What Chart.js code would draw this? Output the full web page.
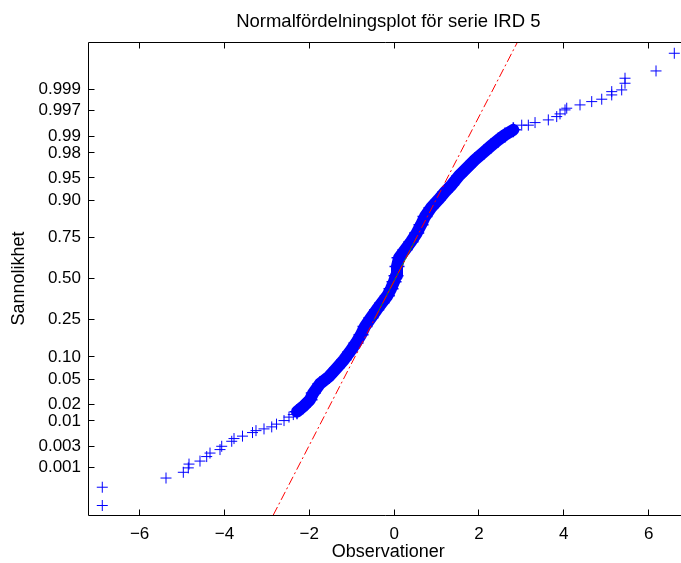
<!DOCTYPE html>
<html>
<head>
<meta charset="utf-8">
<script src="https://cdn.jsdelivr.net/npm/chart.js@4.4.1/dist/chart.umd.min.js"></script>
<style>
html,body{margin:0;padding:0;background:#ffffff;}
#wrap{width:681px;height:563px;}
</style>
</head>
<body>
<div id="wrap"><canvas id="c" width="681" height="563"></canvas></div>
<script>
// ---------------- data ----------------
const chartTitle = 'Normalfördelningsplot för serie IRD 5';
const xAxisTitle = 'Observationer';
const yAxisTitle = 'Sannolikhet';

const xTickValues = [-6, -4, -2, 0, 2, 4, 6];
const probTicks = [0.001, 0.003, 0.01, 0.02, 0.05, 0.10, 0.25, 0.50, 0.75, 0.90, 0.95, 0.98, 0.99, 0.997, 0.999];
const probTickLabels = ['0.001', '0.003', '0.01', '0.02', '0.05', '0.10', '0.25', '0.50', '0.75', '0.90', '0.95', '0.98', '0.99', '0.997', '0.999'];

// axis limits: observations, and normal scores (z)
const xLimits = [-7.216, 6.942];
const zLimits = [-3.865, 3.865];

// lower tail observations and their normal scores
const lowerTailX = [-6.879, -6.879, -5.377, -4.969, -4.852, -4.835, -4.576, -4.418, -4.340, -4.104, -4.064, -3.828, -3.774, -3.574, -3.338, -3.256, -3.067, -2.885, -2.772, -2.595, -2.478, -2.376];
const lowerTailZ = [-3.710, -3.411, -3.261, -3.167, -3.095, -3.033, -2.984, -2.910, -2.853, -2.796, -2.742, -2.660, -2.616, -2.576, -2.518, -2.486, -2.458, -2.425, -2.380, -2.322, -2.265, -2.224];

// dense central band of observations
const bandX = [-2.289, -2.148, -1.983, -1.905, -1.747, -1.528, -1.346, -1.181, -1.040, -0.898, -0.780, -0.686, -0.545, -0.410, -0.285, -0.160, -0.073, -0.002, 0.045, 0.068, 0.116, 0.257, 0.398, 0.533, 0.634, 0.728, 0.870, 1.042, 1.200, 1.358, 1.530, 1.707, 1.907, 2.119, 2.284, 2.456, 2.614, 2.810];
const bandZ = [-2.176, -2.094, -1.980, -1.870, -1.719, -1.599, -1.457, -1.327, -1.196, -1.054, -0.918, -0.783, -0.641, -0.510, -0.396, -0.282, -0.167, -0.053, 0.045, 0.197, 0.339, 0.469, 0.600, 0.742, 0.878, 1.013, 1.155, 1.286, 1.416, 1.531, 1.678, 1.800, 1.939, 2.069, 2.167, 2.265, 2.347, 2.429];

// upper tail observations and their normal scores
const upperTailX = [3.008, 3.164, 3.322, 3.635, 3.833, 3.911, 4.029, 4.069, 4.382, 4.658, 4.894, 5.130, 5.130, 5.365, 5.443, 5.443, 6.174, 6.605];
const upperTailZ = [2.506, 2.506, 2.548, 2.592, 2.646, 2.690, 2.755, 2.783, 2.837, 2.891, 2.930, 3.000, 3.054, 3.082, 3.191, 3.273, 3.392, 3.681];

// reference (fitted normal) line, dash-dot, and its solid quartile part
const fitLineX = [-2.848, 2.909];
const fitLineZ = [-3.865, 3.865];
const quartileX = [-0.471, 0.533];
const quartileP = [0.25, 0.75];

// ---------------- helpers ----------------
function norminv(p) {
  const a = [-3.969683028665376e+01, 2.209460984245205e+02, -2.759285104469687e+02, 1.383577518672690e+02, -3.066479806614716e+01, 2.506628277459239e+00];
  const b = [-5.447609879822406e+01, 1.615858368580409e+02, -1.556989798598866e+02, 6.680131188771972e+01, -1.328068155288572e+01];
  const c = [-7.784894002430293e-03, -3.223964580411365e-01, -2.400758277161838e+00, -2.549732539343734e+00, 4.374664141464968e+00, 2.938163982698783e+00];
  const d = [7.784695709041462e-03, 3.224671290700398e-01, 2.445134137142996e+00, 3.754408661907416e+00];
  const pl = 0.02425, ph = 1 - pl;
  let q, r;
  if (p < pl) {
    q = Math.sqrt(-2 * Math.log(p));
    return (((((c[0]*q+c[1])*q+c[2])*q+c[3])*q+c[4])*q+c[5]) / ((((d[0]*q+d[1])*q+d[2])*q+d[3])*q+1);
  }
  if (p > ph) {
    q = Math.sqrt(-2 * Math.log(1 - p));
    return -(((((c[0]*q+c[1])*q+c[2])*q+c[3])*q+c[4])*q+c[5]) / ((((d[0]*q+d[1])*q+d[2])*q+d[3])*q+1);
  }
  q = p - 0.5; r = q * q;
  return (((((a[0]*r+a[1])*r+a[2])*r+a[3])*r+a[4])*r+a[5])*q / (((((b[0]*r+b[1])*r+b[2])*r+b[3])*r+b[4])*r+1);
}
const pairs = (xs, ys) => xs.map((x, i) => ({x: x, y: ys[i]}));

const FONT = 'Liberation Sans, Arial, Helvetica, sans-serif';
const BLUE = '#0000ff';
const RIGHT_OVERHANG = 7.6; // the axes box continues a little past the canvas edge

// let the plot area run past the right canvas edge (as in the cropped original)
const overhangPlugin = {
  id: 'overhang',
  afterLayout(chart) {
    const ca = chart.chartArea;
    ca.right += RIGHT_OVERHANG;
    ca.width += RIGHT_OVERHANG;
    const xs = chart.scales.x;
    xs.right += RIGHT_OVERHANG;
    xs.width += RIGHT_OVERHANG;
    xs.configure();
    if (chart.titleBlock) {
      chart.titleBlock.right += RIGHT_OVERHANG;
      chart.titleBlock.width += RIGHT_OVERHANG;
    }
  }
};

const framePlugin = {
  id: 'frame',
  afterDatasetsDraw(chart) {
    const ctx = chart.ctx;
    const xs = chart.scales.x, ys = chart.scales.y;
    const {left, right, top, bottom} = chart.chartArea;
    const L = Math.floor(left) + 0.5, T = Math.floor(top) + 0.5;
    const B = Math.floor(bottom) + 0.5, R = Math.floor(right) + 0.5;
    const tl = 6;
    ctx.save();
    ctx.strokeStyle = '#000';
    ctx.lineWidth = 1;
    ctx.beginPath();
    ctx.moveTo(L, T); ctx.lineTo(R, T); ctx.lineTo(R, B); ctx.lineTo(L, B); ctx.closePath();
    xTickValues.forEach(v => {
      const px = Math.floor(xs.getPixelForValue(v)) + 0.5;
      ctx.moveTo(px, B); ctx.lineTo(px, B - tl);
      ctx.moveTo(px, T); ctx.lineTo(px, T + tl);
    });
    probTicks.forEach(p => {
      const py = Math.floor(ys.getPixelForValue(norminv(p))) + 0.5;
      ctx.moveTo(L, py); ctx.lineTo(L + tl, py);
      ctx.moveTo(R, py); ctx.lineTo(R - tl, py);
    });
    ctx.stroke();
    ctx.restore();
  }
};

new Chart(document.getElementById('c'), {
  type: 'scatter',
  data: {
    datasets: [
      {
        label: 'fit',
        data: pairs(fitLineX, fitLineZ),
        showLine: true,
        borderColor: '#ff0000',
        borderWidth: 1,
        borderDash: [9, 3, 2, 3],
        pointRadius: 0,
        order: 0
      },
      {
        label: 'quartiles',
        data: pairs(quartileX, quartileP.map(norminv)),
        showLine: true,
        borderColor: '#1a8c1a',
        borderWidth: 1,
        pointRadius: 0,
        order: 1
      },
      {
        label: 'band',
        data: pairs(bandX, bandZ),
        showLine: true,
        borderColor: BLUE,
        borderWidth: 12,
        borderJoinStyle: 'round',
        borderCapStyle: 'round',
        pointStyle: 'cross',
        pointRadius: 7.5,
        pointBorderWidth: 1.5,
        pointBorderColor: BLUE,
        order: 3
      },
      {
        label: 'lower',
        data: pairs(lowerTailX, lowerTailZ),
        pointStyle: 'cross',
        pointRadius: 5.5,
        borderWidth: 1,
        borderColor: BLUE,
        order: 3
      },
      {
        label: 'upper',
        data: pairs(upperTailX, upperTailZ),
        pointStyle: 'cross',
        pointRadius: 5.5,
        borderWidth: 1,
        borderColor: BLUE,
        order: 3
      }
    ]
  },
  options: {
    responsive: false,
    animation: false,
    devicePixelRatio: 1,
    layout: {autoPadding: false, padding: 0},
    plugins: {
      legend: {display: false},
      tooltip: {enabled: false},
      title: {
        display: true,
        text: chartTitle,
        fullSize: false,
        color: '#000',
        font: {family: FONT, size: 18.5, weight: 'normal'},
        padding: {top: 10.4, bottom: 9.4}
      }
    },
    scales: {
      x: {
        type: 'linear',
        min: xLimits[0],
        max: xLimits[1],
        afterBuildTicks: s => { s.ticks = xTickValues.map(v => ({value: v})); },
        afterFit: s => { s.height = 48; s.paddingLeft = 0; s.paddingRight = 0; },
        grid: {display: false, drawTicks: false},
        border: {display: false},
        ticks: {
          autoSkip: false,
          maxRotation: 0,
          padding: 9.5,
          color: '#000',
          font: {family: FONT, size: 17},
          callback: v => (v < 0 ? '\u2212' + Math.abs(v) : String(v))
        },
        title: {
          display: true,
          text: xAxisTitle,
          color: '#000',
          font: {family: FONT, size: 18},
          padding: {top: 0, bottom: 0.2}
        }
      },
      y: {
        type: 'linear',
        min: zLimits[0],
        max: zLimits[1],
        afterBuildTicks: s => { s.ticks = probTicks.map(p => ({value: norminv(p)})); },
        afterFit: s => { s.width = 88; s.paddingTop = 0; s.paddingBottom = 0; },
        grid: {display: false, drawTicks: false},
        border: {display: false},
        ticks: {
          autoSkip: false,
          padding: 7,
          color: '#000',
          font: {family: FONT, size: 17},
          callback: (v, i) => probTickLabels[i]
        },
        title: {
          display: true,
          text: yAxisTitle,
          color: '#000',
          font: {family: FONT, size: 18},
          padding: {top: 8, bottom: 0}
        }
      }
    }
  },
  plugins: [overhangPlugin, framePlugin]
});
</script>
</body>
</html>
